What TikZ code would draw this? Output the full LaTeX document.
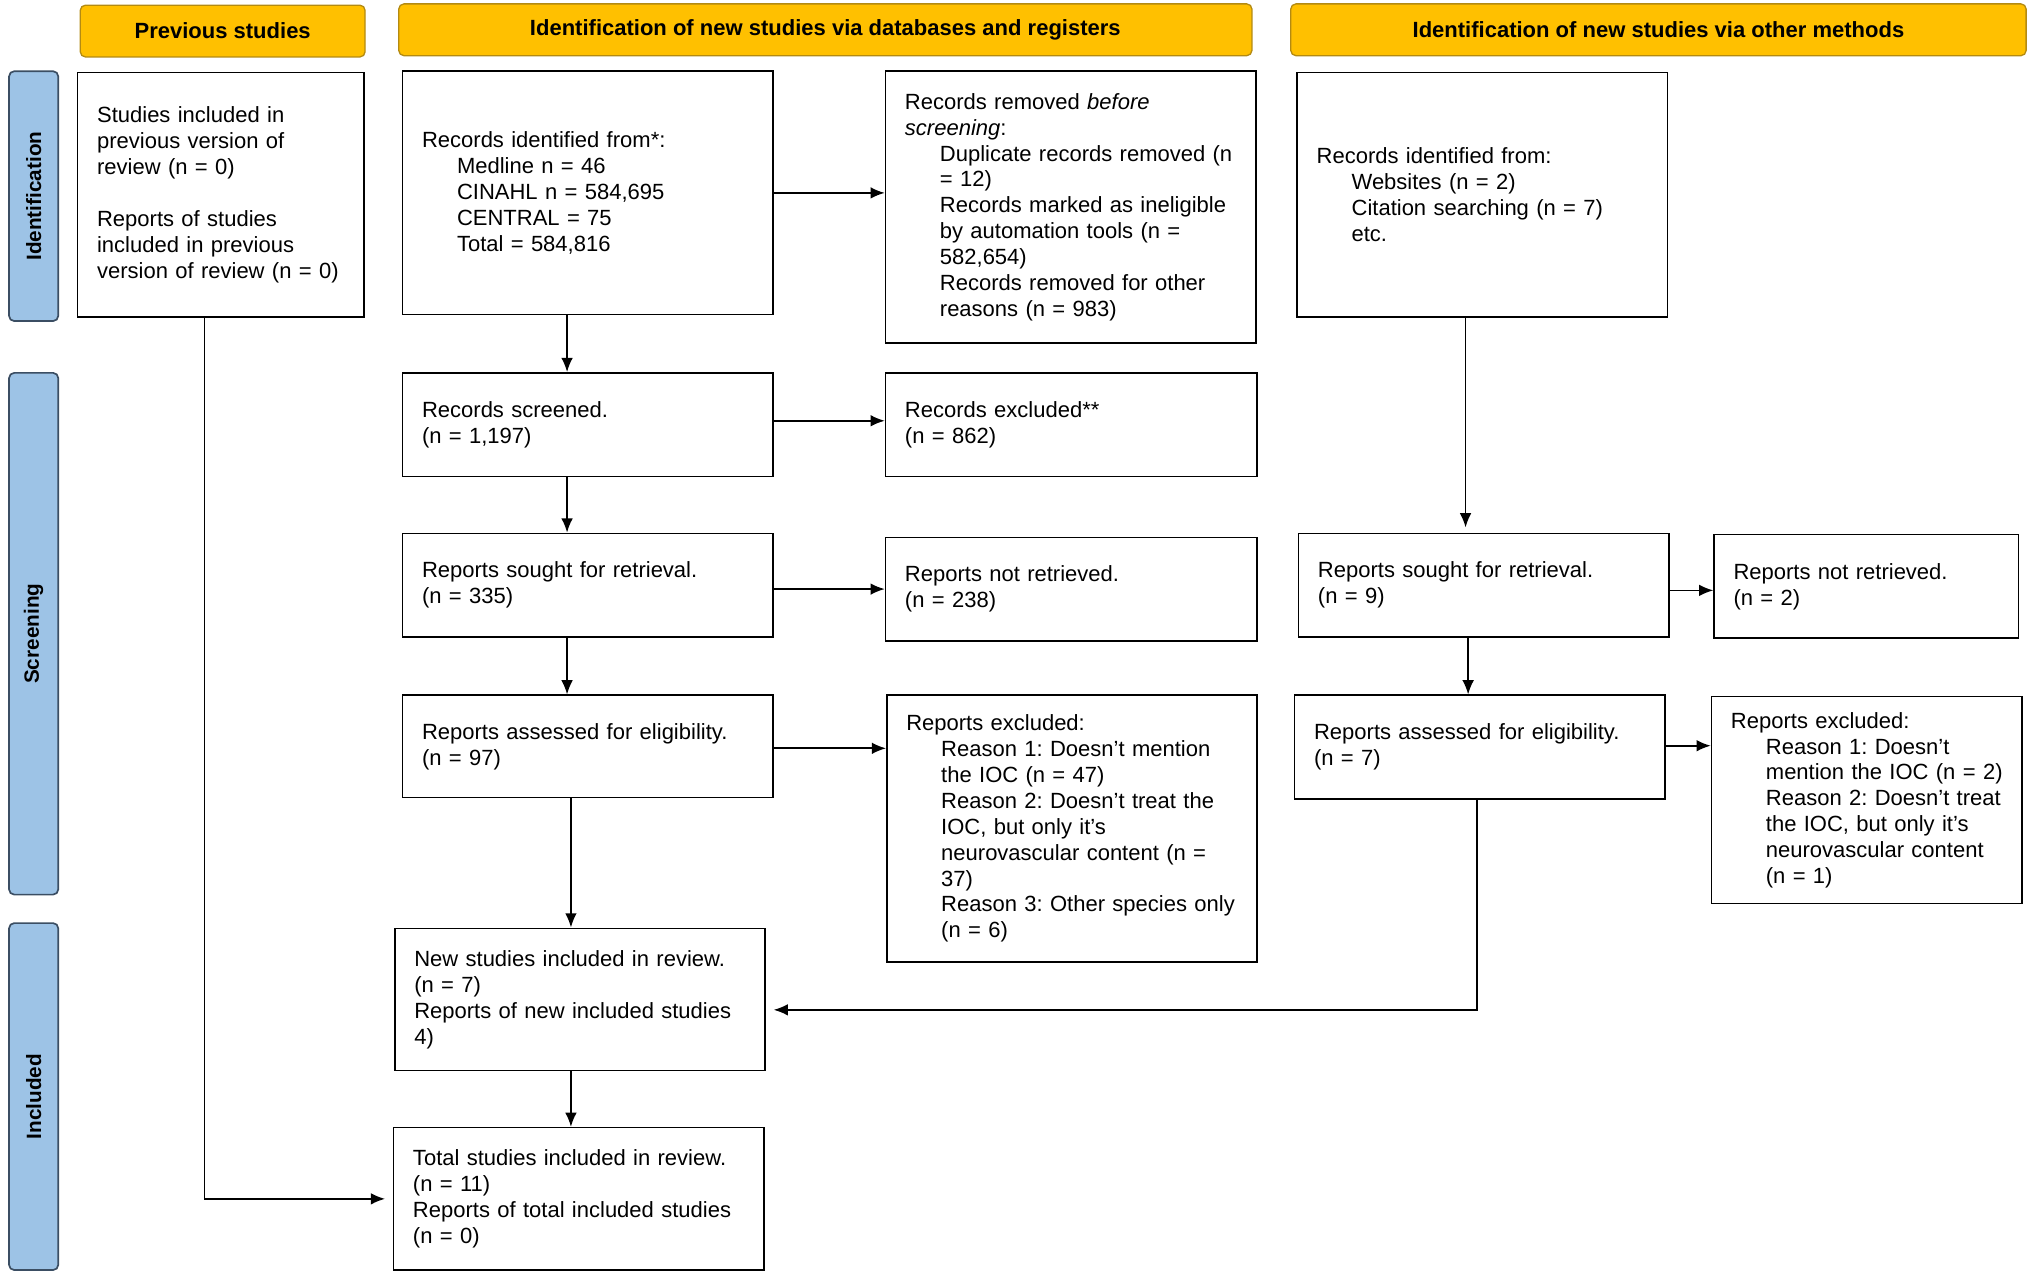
\documentclass[tikz,border=0pt]{standalone}
\usepackage{fontspec}
\setmainfont{Liberation Sans}
\usetikzlibrary{arrows.meta,calc}
\definecolor{hdrfill}{HTML}{FFC000}
\definecolor{hdrdraw}{HTML}{B38A12}
\definecolor{sidefill}{HTML}{9DC3E6}
\definecolor{sidedraw}{HTML}{3B4E63}
\newcommand\ind[1]{\hspace*{27pt}\mbox{#1}}
\frenchspacing
\begin{document}
\frenchspacing
\begin{tikzpicture}[x=1pt,y=-1pt,
  box/.style={draw, line width=1.2pt, rectangle, inner xsep=15pt, inner ysep=0pt,
    align=left, font=\frenchspacing\fontsize{17}{20}\selectfont},
  hdr/.style={draw=hdrdraw, fill=hdrfill, rounded corners=4pt, line width=1pt,
    font=\bfseries\fontsize{17}{20}\selectfont},
  side/.style={draw=sidedraw, fill=sidefill, rounded corners=4pt, line width=1.3pt,
    rotate=90, minimum height=38pt, font=\bfseries\fontsize{16}{20}\selectfont},
  arr/.style={-{Latex[length=11pt,width=9pt]}, line width=1.3pt}]
\useasboundingbox (0,0) rectangle (1568,986);

% headers
\node[hdr, minimum width=220pt, minimum height=40pt] (h1) at (172,24) {Previous studies};
\node[hdr, minimum width=659pt, minimum height=40pt] (h2) at (637.5,23) {Identification of new studies via databases and registers};
\node[hdr, minimum width=568pt, minimum height=40pt] (h3) at (1281,23) {Identification of new studies via other methods};

% side bars
\node[side, minimum width=193pt] (s1) at (26,151.5) {Identification};
\node[side, minimum width=403pt] (s2) at (26,489.5) {Screening};
\node[side, minimum width=268pt] (s3) at (26,847) {Included};

% boxes
\node[box, minimum width=221pt, minimum height=189pt, text width=191pt] (prev) at (170.5,150.5)
 {Studies included in\\previous version of\\review (n = 0)\\[20pt]Reports of studies\\included in previous\\version of review (n = 0)};
\node[box, minimum width=286pt, minimum height=188pt, text width=256pt] (recid) at (454,149)
 {Records identified from*:\\\ind{Medline n = 46}\\\ind{CINAHL n = 584,695}\\\ind{CENTRAL = 75}\\\ind{Total = 584,816}};
\node[box, minimum width=286pt, minimum height=210pt, text width=256pt] (removed) at (827,160)
 {Records removed \textit{before}\\\textit{screening}:\\\ind{Duplicate records removed (n}\\\ind{= 12)}\\\ind{Records marked as ineligible}\\\ind{by automation tools (n =}\\\ind{582,654)}\\\ind{Records removed for other}\\\ind{reasons (n = 983)}};
\node[box, minimum width=286pt, minimum height=189pt, text width=256pt] (othid) at (1145,150.5)
 {Records identified from:\\\ind{Websites (n = 2)}\\\ind{Citation searching (n = 7)}\\\ind{etc.}};

\node[box, minimum width=286pt, minimum height=80pt, text width=256pt] (screened) at (454,328)
 {Records screened.\\(n = 1,197)};
\node[box, minimum width=287pt, minimum height=80pt, text width=257pt] (recexcl) at (827.5,328)
 {Records excluded**\\(n = 862)};

\node[box, minimum width=286pt, minimum height=80pt, text width=256pt] (sought) at (454,452)
 {Reports sought for retrieval.\\(n = 335)};
\node[box, minimum width=287pt, minimum height=80pt, text width=257pt] (notret) at (827.5,455)
 {Reports not retrieved.\\(n = 238)};
\node[box, minimum width=286pt, minimum height=80pt, text width=256pt] (osought) at (1146,452)
 {Reports sought for retrieval.\\(n = 9)};
\node[box, minimum width=235pt, minimum height=80pt, text width=205pt] (onotret) at (1441.5,453)
 {Reports not retrieved.\\(n = 2)};

\node[box, minimum width=286pt, minimum height=79pt, text width=256pt] (assessed) at (454,576.5)
 {Reports assessed for eligibility.\\(n = 97)};
\node[box, minimum width=286pt, minimum height=206pt, text width=256pt] (repexcl) at (828,640)
 {Reports excluded:\\\ind{Reason 1: Doesn't mention}\\\ind{the IOC (n = 47)}\\\ind{Reason 2: Doesn't treat the}\\\ind{IOC, but only it's}\\\ind{neurovascular content (n =}\\\ind{37)}\\\ind{Reason 3: Other species only}\\\ind{(n = 6)}};
\node[box, minimum width=286pt, minimum height=80pt, text width=256pt] (oassessed) at (1143,577)
 {Reports assessed for eligibility.\\(n = 7)};
\node[box, minimum width=240pt, minimum height=160pt, text width=210pt] (orepexcl) at (1442,618)
 {Reports excluded:\\\ind{Reason 1: Doesn't}\\\ind{mention the IOC (n = 2)}\\\ind{Reason 2: Doesn't treat}\\\ind{the IOC, but only it's}\\\ind{neurovascular content}\\\ind{(n = 1)}};

\node[box, minimum width=286pt, minimum height=110pt, text width=256pt] (newinc) at (448,772)
 {New studies included in review.\\(n = 7)\\Reports of new included studies\\4)};
\node[box, minimum width=286pt, minimum height=110pt, text width=256pt] (total) at (447,926)
 {Total studies included in review.\\(n = 11)\\Reports of total included studies\\(n = 0)};

% connectors
\draw[arr] ([xshift=-12.5pt]prev.south) |- ([xshift=-6pt]total.west);
\draw[arr] (recid.east) -- (recid.east -| removed.west);
\draw[arr] ([xshift=-16pt]recid.south) -- ([xshift=-16pt]screened.north);
\draw[arr] ([yshift=3pt]screened.east) -- ([yshift=3pt]screened.east -| recexcl.west);
\draw[arr] ([xshift=-16pt]screened.south) -- ([xshift=-16pt]sought.north);
\draw[arr] (sought.east |- notret.west) -- (notret.west);
\draw[arr] ([xshift=-16pt]sought.south) -- ([xshift=-16pt]assessed.north);
\draw[arr] ([yshift=-1.5pt]assessed.east) -- ([yshift=-1.5pt]assessed.east -| repexcl.west);
\draw[arr] ([xshift=-7pt]newinc.north |- assessed.south) -- ([xshift=-7pt]newinc.north);
\draw[arr] ([xshift=-7pt]newinc.south) -- ([xshift=-7pt]newinc.south |- total.north);
\draw[arr] ([xshift=-13pt]othid.south) -- ([xshift=-13pt,yshift=4pt]othid.south |- osought.north);
\draw[arr] ([yshift=-4pt]osought.east) -- ([yshift=-4pt]osought.east -| onotret.west);
\draw[arr] ([xshift=-12pt]osought.south) -- ([xshift=-12pt]osought.south |- oassessed.north);
\draw[arr] ([yshift=1pt]oassessed.east) -- ([yshift=1pt]oassessed.east -| orepexcl.west);
\draw[arr] ([xshift=-2pt]oassessed.south) |- ([xshift=6pt,yshift=-8pt]newinc.east);
\end{tikzpicture}
\end{document}
